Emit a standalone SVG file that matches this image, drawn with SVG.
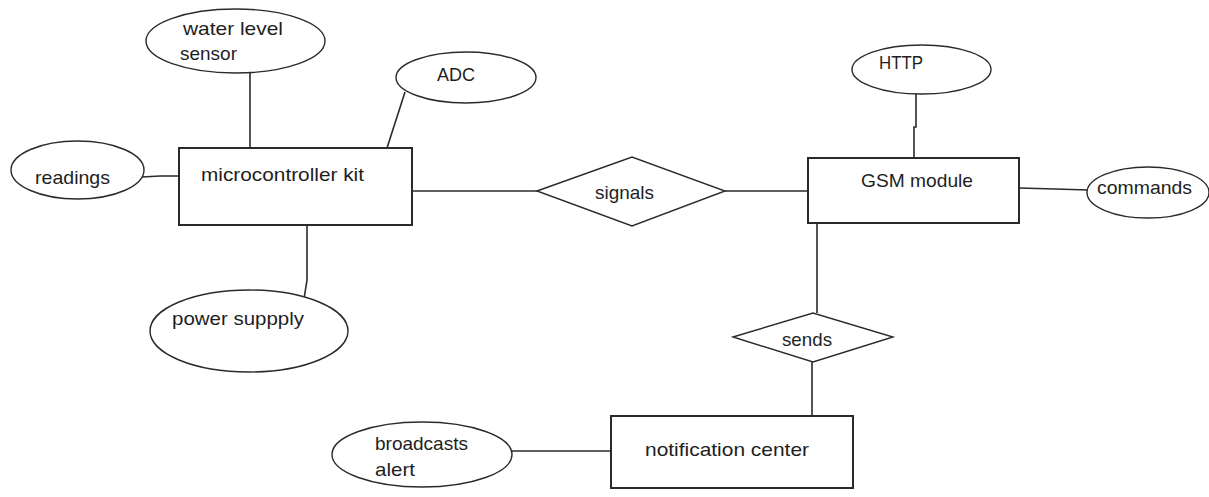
<svg xmlns="http://www.w3.org/2000/svg" width="1209" height="497" viewBox="0 0 1209 497">
  <style>
    .bg { fill: #ffffff; }
    .entity { fill: #ffffff; stroke: #2a2a2a; stroke-width: 2; }
    .attr { fill: #ffffff; stroke: #2a2a2a; stroke-width: 1.4; }
    .rel { fill: #ffffff; stroke: #2a2a2a; stroke-width: 1.4; }
    .link { fill: none; stroke: #2a2a2a; stroke-width: 1.6; }
    text { font-family: "Liberation Sans", Arial, sans-serif; font-size: 19px; fill: #1e1e1e; }
  </style>
  <rect class="bg" x="0" y="0" width="1209" height="497"/>

  <!-- connectors -->
  <g id="connectors">
    <line class="link" x1="250" y1="73" x2="250" y2="148"/>
    <line class="link" x1="405" y1="92" x2="387" y2="148"/>
    <polyline class="link" points="142,177 160,176 179,176"/>
    <polyline class="link" points="307,225 307,280 304,299"/>
    <line class="link" x1="412" y1="191" x2="537" y2="191"/>
    <line class="link" x1="725" y1="191" x2="808" y2="191"/>
    <polyline class="link" points="916,94 916,127 914,127 914,158"/>
    <polyline class="link" points="1019,188 1055,189 1088,190"/>
    <line class="link" x1="817" y1="223" x2="817" y2="313"/>
    <line class="link" x1="812" y1="362" x2="812" y2="416"/>
    <line class="link" x1="512" y1="451" x2="611" y2="451"/>
  </g>

  <!-- entities -->
  <g id="microcontroller-kit">
    <rect class="entity" x="179" y="148" width="233" height="77"/>
    <text x="201" y="181" textLength="163" lengthAdjust="spacingAndGlyphs">microcontroller kit</text>
  </g>
  <g id="gsm-module">
    <rect class="entity" x="808" y="158" width="211" height="65"/>
    <text x="861" y="187" textLength="112" lengthAdjust="spacingAndGlyphs">GSM module</text>
  </g>
  <g id="notification-center">
    <rect class="entity" x="611" y="416" width="242" height="72"/>
    <text x="645" y="456" textLength="164" lengthAdjust="spacingAndGlyphs">notification center</text>
  </g>

  <!-- relationships -->
  <g id="signals">
    <polygon class="rel" points="537,191 632,157 725,191 632,226"/>
    <text x="595" y="199" textLength="59" lengthAdjust="spacingAndGlyphs">signals</text>
  </g>
  <g id="sends">
    <polygon class="rel" points="733,337 813,313 893,337 813,362"/>
    <text x="782" y="346" textLength="50" lengthAdjust="spacingAndGlyphs">sends</text>
  </g>

  <!-- attributes -->
  <g id="water-level-sensor">
    <ellipse class="attr" cx="235.5" cy="41" rx="89.5" ry="32"/>
    <text x="183" y="35" textLength="100" lengthAdjust="spacingAndGlyphs">water level</text>
    <text x="180" y="60" textLength="57" lengthAdjust="spacingAndGlyphs">sensor</text>
  </g>
  <g id="adc">
    <ellipse class="attr" cx="466" cy="77.5" rx="70" ry="25.5"/>
    <text x="437" y="81" textLength="38" lengthAdjust="spacingAndGlyphs">ADC</text>
  </g>
  <g id="readings">
    <ellipse class="attr" cx="77.5" cy="170" rx="66.5" ry="29"/>
    <text x="35" y="184" textLength="75" lengthAdjust="spacingAndGlyphs">readings</text>
  </g>
  <g id="power-supply">
    <ellipse class="attr" cx="249" cy="331" rx="99" ry="41"/>
    <text x="172" y="325" textLength="132" lengthAdjust="spacingAndGlyphs">power suppply</text>
  </g>
  <g id="http">
    <ellipse class="attr" cx="921.5" cy="69.5" rx="69.5" ry="24.5"/>
    <text x="879" y="69" textLength="44" lengthAdjust="spacingAndGlyphs">HTTP</text>
  </g>
  <g id="commands">
    <ellipse class="attr" cx="1148" cy="192.5" rx="61" ry="25.5"/>
    <text x="1097" y="194" textLength="95" lengthAdjust="spacingAndGlyphs">commands</text>
  </g>
  <g id="broadcasts-alert">
    <ellipse class="attr" cx="422" cy="454.5" rx="90" ry="32.5"/>
    <text x="375" y="450" textLength="93" lengthAdjust="spacingAndGlyphs">broadcasts</text>
    <text x="375" y="476" textLength="40" lengthAdjust="spacingAndGlyphs">alert</text>
  </g>
</svg>
